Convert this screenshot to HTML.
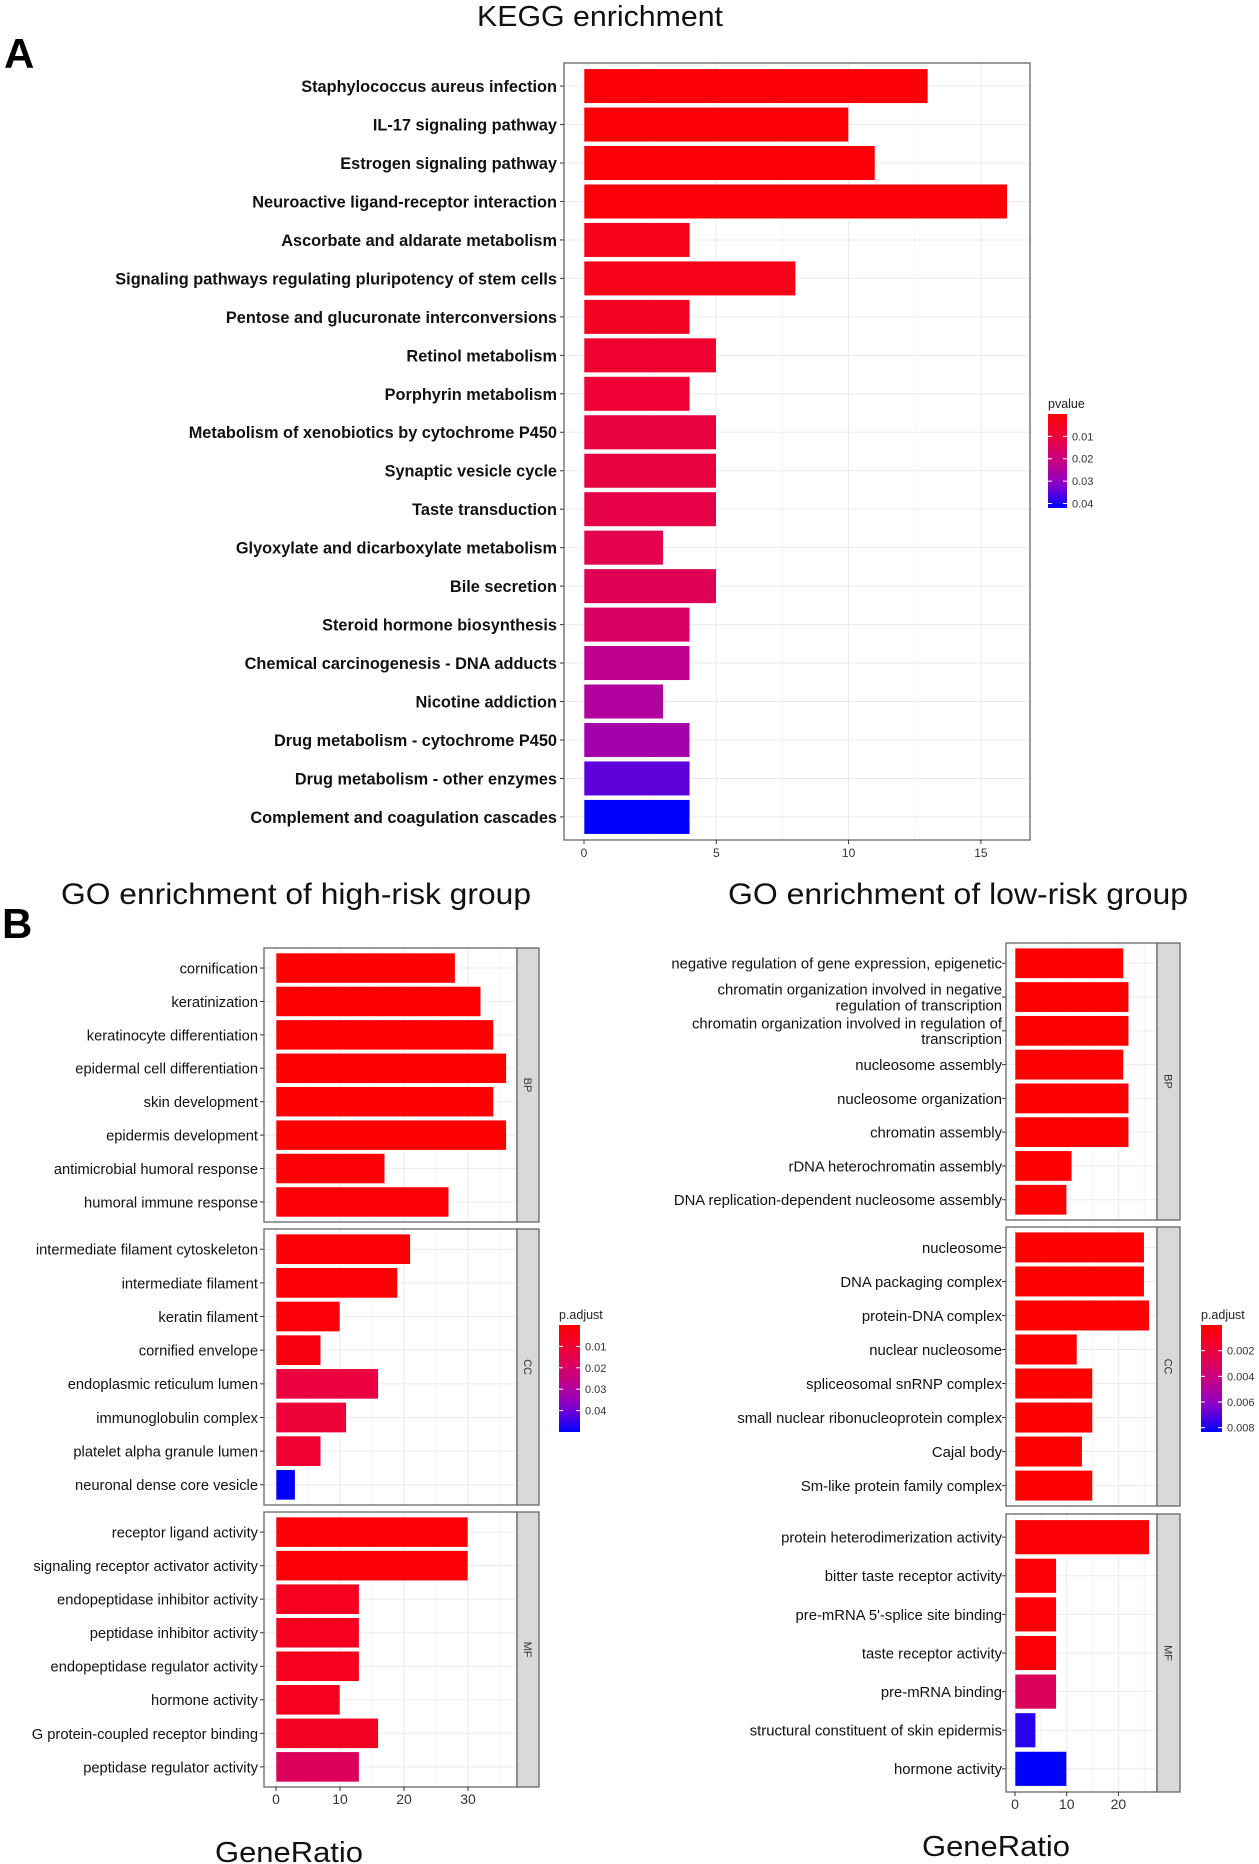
<!DOCTYPE html>
<html><head><meta charset="utf-8"><style>
html,body{margin:0;padding:0;background:#fff;}
svg{display:block;font-family:"Liberation Sans",sans-serif;}
</style></head><body>
<svg id="fig" width="1259" height="1864" viewBox="0 0 1259 1864" xmlns="http://www.w3.org/2000/svg">
<text x="600" y="26" font-size="29" text-anchor="middle" fill="#111" textLength="246" lengthAdjust="spacingAndGlyphs">KEGG enrichment</text>
<text x="4" y="68" font-size="42" font-weight="bold">A</text>
<text x="296" y="904" font-size="30" text-anchor="middle" fill="#111" textLength="470" lengthAdjust="spacingAndGlyphs">GO enrichment of high-risk group</text>
<text x="958" y="904" font-size="30" text-anchor="middle" fill="#111" textLength="460" lengthAdjust="spacingAndGlyphs">GO enrichment of low-risk group</text>
<text x="2" y="938" font-size="42" font-weight="bold">B</text>
<text x="289" y="1862" font-size="29" text-anchor="middle" fill="#111" textLength="148" lengthAdjust="spacingAndGlyphs">GeneRatio</text>
<text x="996" y="1856" font-size="29" text-anchor="middle" fill="#111" textLength="148" lengthAdjust="spacingAndGlyphs">GeneRatio</text>
<g id="root"></g>
</svg>
<script>
// KEGG data
const keggTerms = ["Staphylococcus aureus infection","IL-17 signaling pathway","Estrogen signaling pathway","Neuroactive ligand-receptor interaction","Ascorbate and aldarate metabolism","Signaling pathways regulating pluripotency of stem cells","Pentose and glucuronate interconversions","Retinol metabolism","Porphyrin metabolism","Metabolism of xenobiotics by cytochrome P450","Synaptic vesicle cycle","Taste transduction","Glyoxylate and dicarboxylate metabolism","Bile secretion","Steroid hormone biosynthesis","Chemical carcinogenesis - DNA adducts","Nicotine addiction","Drug metabolism - cytochrome P450","Drug metabolism - other enzymes","Complement and coagulation cascades"];
const keggCounts = [13,10,11,16,4,8,4,5,4,5,5,5,3,5,4,4,3,4,4,4];
const keggPvals = [0.001,0.001,0.0012,0.0015,0.004,0.004,0.006,0.008,0.009,0.011,0.011,0.012,0.013,0.014,0.016,0.023,0.025,0.027,0.035,0.042];
const keggTicks = [0,5,10,15];
const keggLegendTicks = ["0.01","0.02","0.03","0.04"];

// GO high-risk
const highBP = ["cornification","keratinization","keratinocyte differentiation","epidermal cell differentiation","skin development","epidermis development","antimicrobial humoral response","humoral immune response"];
const highBPv = [28,32,34,36,34,36,17,27];
const highBPp = [0,0,0,0,0,0,0.001,0.001];
const highCC = ["intermediate filament cytoskeleton","intermediate filament","keratin filament","cornified envelope","endoplasmic reticulum lumen","immunoglobulin complex","platelet alpha granule lumen","neuronal dense core vesicle"];
const highCCv = [21,19,10,7,16,11,7,3];
const highCCp = [0.001,0.001,0.002,0.003,0.013,0.011,0.010,0.05];
const highMF = ["receptor ligand activity","signaling receptor activator activity","endopeptidase inhibitor activity","peptidase inhibitor activity","endopeptidase regulator activity","hormone activity","G protein-coupled receptor binding","peptidase regulator activity"];
const highMFv = [30,30,13,13,13,10,16,13];
const highMFp = [0.001,0.001,0.006,0.006,0.006,0.006,0.007,0.018];
const highTicks = [0,10,20,30];
const highLegendTicks = ["0.01","0.02","0.03","0.04"];

// GO low-risk
const lowBP = ["negative regulation of gene expression, epigenetic","chromatin organization involved in negative|regulation of transcription","chromatin organization involved in regulation of|transcription","nucleosome assembly","nucleosome organization","chromatin assembly","rDNA heterochromatin assembly","DNA replication-dependent nucleosome assembly"];
const lowBPv = [21,22,22,21,22,22,11,10];
const lowBPp = [0,0,0,0,0,0,0,0];
const lowCC = ["nucleosome","DNA packaging complex","protein-DNA complex","nuclear nucleosome","spliceosomal snRNP complex","small nuclear ribonucleoprotein complex","Cajal body","Sm-like protein family complex"];
const lowCCv = [25,25,26,12,15,15,13,15];
const lowCCp = [0,0,0,0,0,0,0,0];
const lowMF = ["protein heterodimerization activity","bitter taste receptor activity","pre-mRNA 5'-splice site binding","taste receptor activity","pre-mRNA binding","structural constituent of skin epidermis","hormone activity"];
const lowMFv = [26,8,8,8,8,4,10];
const lowMFp = [0.0002,0.0002,0.0002,0.0002,0.003,0.0078,0.0084];
const lowTicks = [0,10,20];
const lowLegendTicks = ["0.002","0.004","0.006","0.008"];

const NS="http://www.w3.org/2000/svg";
const root=document.getElementById('root');
function mk(tag,attrs,parent){const e=document.createElementNS(NS,tag);for(const k in attrs)e.setAttribute(k,attrs[k]);(parent||root).appendChild(e);return e;}
const anchors=[[255,0,0],[235,0,62],[200,0,130],[140,0,200],[0,0,255]];
function colorAt(t){t=Math.max(0,Math.min(1,t));const s=t*(anchors.length-1);const i=Math.min(anchors.length-2,Math.floor(s));const f=s-i;const a=anchors[i],b=anchors[i+1];return `rgb(${Math.round(a[0]+(b[0]-a[0])*f)},${Math.round(a[1]+(b[1]-a[1])*f)},${Math.round(a[2]+(b[2]-a[2])*f)})`;}

function facet(o){
  const g=mk('g',{});
  
  
  mk('rect',{x:o.x0,y:o.y0,width:o.x1-o.x0,height:o.y1-o.y0,fill:'#fff'},g);
  const xs=v=>o.xZero+v*o.pxPer;
  for(let v=0;v<=o.gridMax;v+=o.minor){const X=xs(v);if(X>o.x1)break;mk('line',{x1:X,x2:X,y1:o.y0,y2:o.y1,stroke:(Math.round(v/o.minor)%2===0)?'#ebebeb':'#f5f5f5','stroke-width':1},g);}
  const n=o.terms.length,step=(o.y1-o.y0)/(n+0.2);
  const yc=i=>o.y0+step*(i+0.6);
  for(let i=0;i<n;i++){
    const Y=yc(i);
    mk('line',{x1:o.x0,x2:o.x1,y1:Y,y2:Y,stroke:'#ebebeb','stroke-width':1},g);
  }
  for(let i=0;i<n;i++){
    const Y=yc(i),h=step*0.9;
    const r=mk('rect',{x:xs(0),y:Y-h/2,width:o.vals[i]*o.pxPer,height:h,fill:colorAt(o.pv[i]/o.pmax),stroke:'#fff','stroke-width':0.6},g);
    
    
    mk('line',{x1:o.x0-4,x2:o.x0,y1:Y,y2:Y,stroke:'#333','stroke-width':1},g);
    const lines=o.terms[i].split('|');
    const tg=mk('g',{transform:`translate(${o.labX},${Y}) scale(${o.sx},1)`},g);
    lines.forEach((ln,k)=>{
      const t=mk('text',{x:0,y:(k-(lines.length-1)/2)*o.fs*1.05+o.fs*0.36,'font-size':o.fs,'text-anchor':'end','font-weight':o.bold?'bold':'normal',fill:'#111'},tg);
      t.textContent=ln;
      
      
    });
  }
  mk('rect',{x:o.x0,y:o.y0,width:o.x1-o.x0,height:o.y1-o.y0,fill:'none',stroke:'#666','stroke-width':1.3},g);
  if(o.strip){
    const sw=o.stripW;
    const s=mk('rect',{x:o.x1,y:o.y0,width:sw,height:o.y1-o.y0,fill:'#d9d9d9',stroke:'#666','stroke-width':1.3},g);
    
    
    const cx=o.x1+sw/2,cy=(o.y0+o.y1)/2;
    const st=mk('text',{x:0,y:4,'font-size':11,'text-anchor':'middle',fill:'#333',transform:`translate(${cx},${cy}) rotate(90)`},g);
    st.textContent=o.strip;
  }
  return xs;
}
function xaxis(xs,ticks,y,fs){
  ticks.forEach(v=>{const X=xs(v);mk('line',{x1:X,x2:X,y1:y,y2:y+4,stroke:'#333'});const t=mk('text',{x:X,y:y+17,'font-size':fs,'text-anchor':'middle',fill:'#333'});t.textContent=v;
    
    });
}
function legend(x,y,w,h,title,ticks,fracs){
  const t=mk('text',{x:x,y:y-6,'font-size':12.5,fill:'#222'});t.textContent=title;
  
  
  const id='gr'+Math.round(x);
  const d=mk('linearGradient',{id:id,x1:0,y1:0,x2:0,y2:1});
  for(let i=0;i<=10;i++)mk('stop',{offset:i/10,'stop-color':colorAt(i/10)},d);
  const r=mk('rect',{x:x,y:y,width:w,height:h,fill:`url(#${id})`});
  
  
  ticks.forEach((tk,i)=>{const Y=y+fracs[i]*h;mk('line',{x1:x,x2:x+4,y1:Y,y2:Y,stroke:'#fff'});mk('line',{x1:x+w-4,x2:x+w,y1:Y,y2:Y,stroke:'#fff'});const tt=mk('text',{x:x+w+5,y:Y+4,'font-size':11,fill:'#333'});tt.textContent=tk;});
}

// KEGG
(function(){
  const xs=facet({x0:564,x1:1030,y0:63,y1:840,xZero:584,pxPer:26.46,terms:keggTerms,vals:keggCounts,pv:keggPvals,pmax:0.042,labX:557,fs:16.5,bold:true,sx:0.99,gridMax:17.5,minor:2.5,nameP:'kegg'});
  xaxis(xs,keggTicks,840,12);
  legend(1048,414,19,94,'pvalue',keggLegendTicks,[0.238,0.476,0.714,0.952]);
})();
// high-risk
(function(){
  const common={x0:264,x1:517,xZero:276,pxPer:6.4,labX:258,fs:15,bold:false,sx:0.98,gridMax:37,minor:5,stripW:22,pmax:0.05};
  const xs=facet(Object.assign({y0:948,y1:1222,terms:highBP,vals:highBPv,pv:highBPp,strip:'BP',nameP:'high-bp'},common));
  facet(Object.assign({y0:1229,y1:1505,terms:highCC,vals:highCCv,pv:highCCp,strip:'CC',nameP:'high-cc'},common));
  facet(Object.assign({y0:1512,y1:1787,terms:highMF,vals:highMFv,pv:highMFp,strip:'MF',nameP:'high-mf'},common));
  xaxis(xs,highTicks,1787,14);
  legend(559,1325,21,107,'p.adjust',highLegendTicks,[0.2,0.4,0.6,0.8]);
})();
// low-risk
(function(){
  const common={x0:1006,x1:1157,xZero:1015,pxPer:5.17,labX:1002,fs:15,bold:false,sx:0.99,gridMax:27,minor:5,stripW:23,pmax:0.0084};
  const xs=facet(Object.assign({y0:943,y1:1220,terms:lowBP,vals:lowBPv,pv:lowBPp,strip:'BP',nameP:'low-bp'},common));
  facet(Object.assign({y0:1227,y1:1506,terms:lowCC,vals:lowCCv,pv:lowCCp,strip:'CC',nameP:'low-cc'},common));
  facet(Object.assign({y0:1514,y1:1792,terms:lowMF,vals:lowMFv,pv:lowMFp,strip:'MF',nameP:'low-mf'},common));
  xaxis(xs,lowTicks,1792,14);
  legend(1201,1325,21,107,'p.adjust',lowLegendTicks,[0.24,0.48,0.72,0.96]);
})();
</script>
</body></html>
